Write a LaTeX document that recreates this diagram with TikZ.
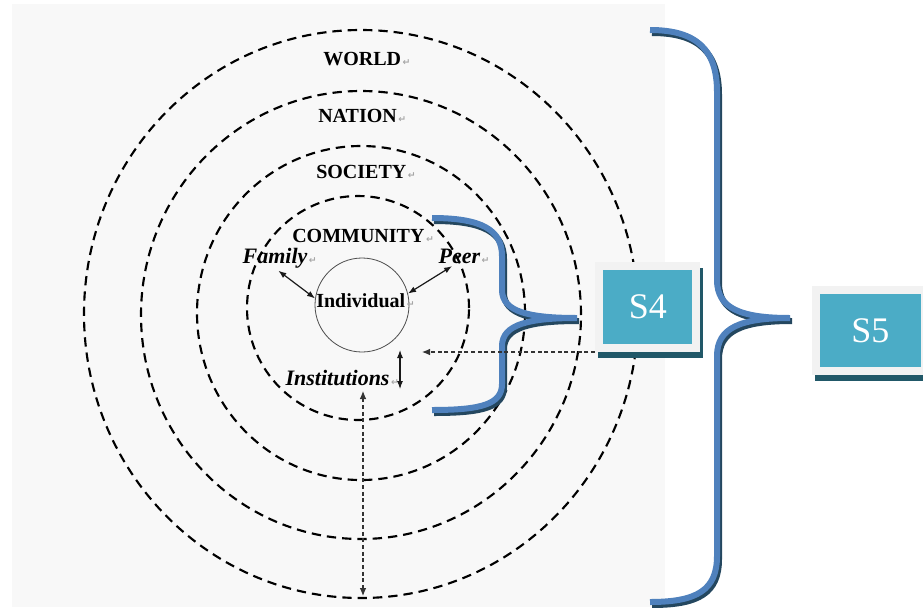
\documentclass[tikz,border=0pt]{standalone}
\usepackage{fontspec}
\setmainfont{Liberation Serif}
\newfontfamily\symfont{DejaVu Sans}
\usetikzlibrary{arrows.meta,shapes.geometric}
\definecolor{panel}{HTML}{F8F8F8}
\definecolor{bracecol}{HTML}{4F81BD}
\definecolor{braceshade}{HTML}{24475F}
\definecolor{tealfill}{HTML}{4BACC6}
\definecolor{tealshade}{HTML}{215868}
\definecolor{framegray}{HTML}{F2F2F2}
% small paragraph mark after each label
\newcommand\pmark{{\symfont\fontsize{7}{7}\selectfont\color{black!35}\,↵}}

\begin{document}
\begin{tikzpicture}[x=0.75pt,y=-0.75pt,
  ring/.style={draw=black, dash pattern=on 7pt off 4.5pt, line width=1.6pt,
               ellipse, inner sep=0pt},
  levellbl/.style={font=\bfseries\fontsize{15}{15}\selectfont, text=black,
                   inner sep=0pt, anchor=base west},
  grouplbl/.style={font=\bfseries\itshape\fontsize{16.5}{16.5}\selectfont, text=black,
                   inner sep=1pt, anchor=base west},
  twoway/.style={{Latex[length=6pt,width=4.5pt]}-{Latex[length=6pt,width=4.5pt]},
                 line width=0.9pt, draw=black!90},
  dashlink/.style={dash pattern=on 3pt off 2pt, line width=0.8pt, draw=black!80},
  sbox/.style={draw=framegray, line width=6pt, fill=tealfill, text=white,
               font=\fontsize{27}{27}\selectfont, inner sep=0pt,
               preaction={draw=tealshade, fill=tealshade, line width=6pt,
                          transform canvas={shift={(2.25pt,-4.5pt)}}}}
]
\useasboundingbox (0,0) rectangle (923,607);
\fill[panel] (12,4) rectangle (665,607);

% nested rings
\node[ring, minimum width=415.5pt, minimum height=426pt] (world) at (361,314) {};
\node[ring, minimum width=330pt, minimum height=336pt] (nation) at (361,315) {};
\node[ring, minimum width=246pt, minimum height=250.5pt] (society) at (361,313) {};
\node[ring, minimum width=166.5pt, minimum height=168pt] (community) at (358,308) {};
\node[circle, draw=black!70, line width=0.6pt, minimum size=70.5pt, inner sep=0pt] (ind) at (362,305) {};

% ring labels
\node[levellbl] (worldlbl) at (323,65) {WORLD\pmark};
\node[levellbl] (nationlbl) at (318,122) {NATION\pmark};
\node[levellbl] (societylbl) at (316,178) {SOCIETY\pmark};
\node[levellbl] (communitylbl) at (292,242) {COMMUNITY\pmark};
\node[levellbl] (indlbl) at (316,307) {Individual\pmark};

% groups around the individual
\node[grouplbl] (fam) at (241,263) {Family\pmark};
\node[grouplbl] (peer) at (437,263) {Peer\pmark};
\node[grouplbl] (inst) at (284,385) {Institutions\pmark};

\draw[twoway] ([xshift=-1pt,yshift=-1pt]fam.south) -- (ind.172);
\draw[twoway] ([xshift=-9pt,yshift=-1pt]peer.south) -- (ind.14);

\coordinate (vtop) at (400,350);
\coordinate (vbot) at (400,389);
\draw[twoway, line width=0.8pt] (vtop) -- (vbot);

% braces
\foreach \dx/\dy/\col in {2/3/braceshade, 0/0/bracecol} {
  \draw[line width=4.5pt, draw=\col, shift={(\dx,\dy)}]
    (432,218) .. controls (482,218) and (502,230) .. (502,256)
    -- (502,290) .. controls (502,312) and (530,318) .. (577,318)
    .. controls (530,318) and (502,324) .. (502,346)
    -- (502,384) .. controls (502,404) and (482,410) .. (432,410);
  \draw[line width=4.5pt, draw=\col, shift={(\dx,\dy)}]
    (650,30) .. controls (697,30) and (717,50) .. (717,92)
    -- (717,280) .. controls (717,308) and (740,318) .. (790,318)
    .. controls (740,318) and (717,328) .. (717,356)
    -- (717,556) .. controls (717,590) and (697,602) .. (650,602);
}

% scale boxes
\node[sbox, minimum width=73.1pt, minimum height=61.5pt] (s4) at (647.75,307) {S4};
\node[sbox, minimum width=82.1pt, minimum height=61.1pt] (s5) at (870.25,330.75) {S5};

% dashed links
\coordinate (hzend) at (422,352);
\draw[dashlink, -{Latex[length=6pt,width=5pt]}] (s4.south west) -- (hzend);
\coordinate (vup) at (363,391);
\coordinate (vdn) at (363,596);
\draw[dashlink, {Latex[length=6pt,width=5pt]}-{Latex[length=6pt,width=5pt]}] (vup) -- (vdn);
\end{tikzpicture}
\end{document}
